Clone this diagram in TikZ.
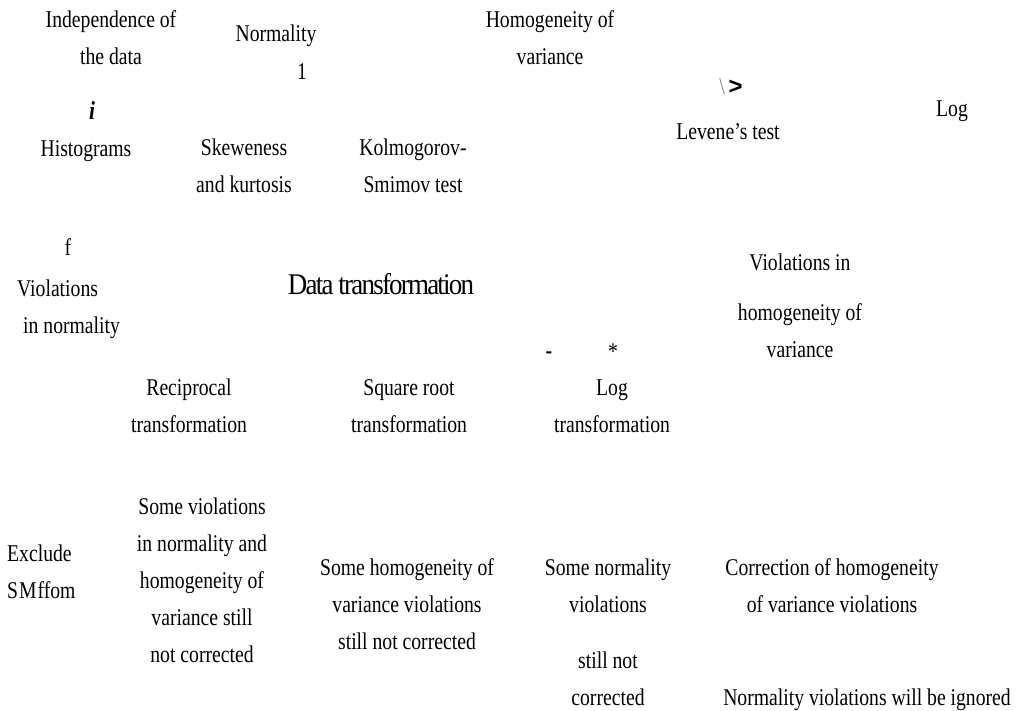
\documentclass[tikz,border=0pt]{standalone}
\usepackage{fontspec}
\setmainfont{Liberation Serif}[FakeStretch=0.82]
\newfontfamily\tightfont{Liberation Serif}[FakeStretch=0.9,LetterSpace=-6]
\newfontfamily\signfont{Liberation Sans}
\usetikzlibrary{positioning}

\begin{document}
\begin{tikzpicture}[x=1pt,y=-1pt,
    lbl/.style={anchor=base, align=center, inner sep=0pt, font=\fontsize{24}{37}\selectfont},
    lblleft/.style={lbl, align=left, anchor=base west},
    title/.style={anchor=base, inner sep=0pt, font=\tightfont\fontsize{30}{34}\selectfont}]
    \useasboundingbox (0,0) rectangle (1024,711);
    \node[lbl] (indep) at (111,65) {Independence of\\the data};
    \node[lbl] (norm) at (276,42) {Normality};
    \node[lbl] (one) at (302,80) {1};
    \node[lbl] (homog) at (550,65) {Homogeneity of\\variance};
    \node[lbl] (sign) at (731,95) {{\color{gray}\textbackslash}\,{\signfont\bfseries >}};
    \node[lbl] (levene) at (728,140) {Levene's test};
    \node[lbl] (logtop) at (952,117) {Log};
    \node[lbl, font=\fontsize{26}{37}\selectfont\bfseries\itshape] (ital) at (92,120) {i};
    \node[lbl] (hist) at (86,157) {Histograms};
    \node[lbl] (skew) at (244,193) {Skeweness\\and kurtosis};
    \node[lbl] (ks) at (413,193) {Kolmogorov-\\Smimov test};
    \node[lbl] (eff) at (68,255) {f};
    \node[lblleft] (violnorm) at (17,333) {Violations\\\hspace*{6pt}in normality};
    \node[title] (datatr) at (381,294) {Data transformation};
    \node[lbl] (violhom) at (800,357) {Violations in\\[13pt]homogeneity of\\variance};
    \node[lbl, font=\fontsize{24}{37}\selectfont\bfseries] (dash) at (549,358) {-};
    \node[lbl] (star) at (613,359) {*};
    \node[lbl] (logtr) at (612,432) {Log\\transformation};
    \node[lbl] (recip) at (189,432) {Reciprocal\\transformation};
    \node[lbl] (sqroot) at (409,432) {Square root\\transformation};
    \node[lblleft] (excl) at (7,598) {Exclude\\S\kern1pt M\kern1pt ffom};
    \node[lbl] (somev) at (202,662) {Some violations\\in normality and\\homogeneity of\\variance still\\not corrected};
    \node[lbl] (someh) at (407,649) {Some homogeneity of\\variance violations\\still not corrected};
    \node[lbl] (somen) at (608,705) {Some normality\\violations\\[19pt]still not\\corrected};
    \node[lbl] (corr) at (832,612) {Correction of homogeneity\\of variance violations};
    \node[lbl] (ignore) at (867,705) {Normality violations will be ignored};
\end{tikzpicture}
\end{document}
